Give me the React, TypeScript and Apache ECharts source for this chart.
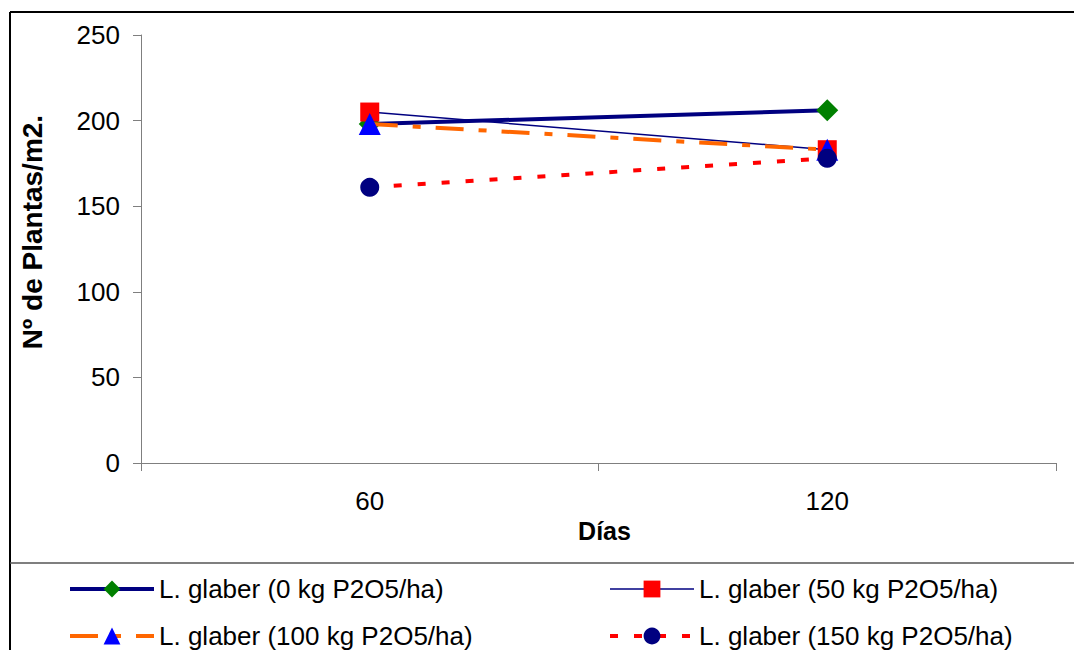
import React, { useEffect, useRef } from 'react';
import * as echarts from 'echarts';

const categories = ['60', '120'];
const seriesNames = [
  'L. glaber (0 kg P2O5/ha)',
  'L. glaber (50 kg P2O5/ha)',
  'L. glaber (100 kg P2O5/ha)',
  'L. glaber (150 kg P2O5/ha)',
];
const values0 = [198, 206];
const values1 = [205, 183];
const values2 = [198, 183];
const values3 = [161, 178];
const yAxisTitle = 'Nº de Plantas/m2.';
const xAxisTitle = 'Días';

const FONT = '"Liberation Sans", Arial, sans-serif';

const styles = [
  { line: { color: '#000080', width: 4, type: 'solid' as any }, symbol: 'diamond', size: 22, mark: '#008000' },
  { line: { color: '#000080', width: 1.5, type: 'solid' as any }, symbol: 'rect', size: 19, mark: '#FF0000' },
  { line: { color: '#FF6600', width: 4, type: [28, 15, 8, 15] as any }, symbol: 'triangle', size: 22, mark: '#0000FF' },
  { line: { color: '#FF0000', width: 4, type: [8, 16] as any }, symbol: 'circle', size: 19, mark: '#000080' },
];
const allValues = [values0, values1, values2, values3];

export default function App() {
  const ref = useRef<HTMLDivElement>(null);
  useEffect(() => {
    if (!ref.current) return;
    const chart = echarts.init(ref.current, undefined, { renderer: 'svg' });
    const legendItem = (i: number) => ({
      name: seriesNames[i],
      itemStyle: { color: styles[i].mark },
      lineStyle: { color: styles[i].line.color, width: styles[i].line.width, type: styles[i].line.type },
    });
    const legendCommon = {
      orient: 'vertical' as const,
      top: 576,
      padding: 0,
      itemWidth: 84,
      itemHeight: 21,
      itemGap: 21,
      textStyle: { fontFamily: FONT, fontSize: 26, lineHeight: 24, color: '#000' },
      selectedMode: false,
    };
    chart.setOption({
      animation: false,
      backgroundColor: '#fff',
      textStyle: { fontFamily: FONT },
      grid: { left: 141, top: 35, right: 18, bottom: 187, containLabel: false },
      xAxis: {
        type: 'category',
        data: categories,
        boundaryGap: true,
        axisLine: { lineStyle: { color: '#7f7f7f', width: 1 } },
        axisTick: { show: true, length: 8, lineStyle: { color: '#7f7f7f' } },
        axisLabel: { fontFamily: FONT, fontSize: 26, color: '#000', margin: 25 },
        name: xAxisTitle,
        nameLocation: 'middle',
        nameGap: 54,
        nameTextStyle: { fontFamily: FONT, fontSize: 25, fontWeight: 'bold', color: '#000', padding: [0, 0, 0, 12] },
        splitLine: { show: false },
      },
      yAxis: {
        type: 'value',
        min: 0,
        max: 250,
        interval: 50,
        axisLine: { show: true, lineStyle: { color: '#7f7f7f', width: 1 } },
        axisTick: { show: true, length: 8, lineStyle: { color: '#7f7f7f' } },
        axisLabel: { fontFamily: FONT, fontSize: 26, color: '#000', margin: 21 },
        splitLine: { show: false },
      },
      legend: [
        { ...legendCommon, left: 68, data: [legendItem(0), legendItem(2)] },
        { ...legendCommon, left: 608, data: [legendItem(1), legendItem(3)] },
      ],
      graphic: [
        { type: 'line', shape: { x1: 10, y1: 12, x2: 1074, y2: 12 }, style: { stroke: '#000', lineWidth: 2 }, silent: true },
        { type: 'line', shape: { x1: 10, y1: 12, x2: 10, y2: 650 }, style: { stroke: '#000', lineWidth: 2 }, silent: true },
        { type: 'line', shape: { x1: 10, y1: 563, x2: 1074, y2: 563 }, style: { stroke: '#555', lineWidth: 1.5 }, silent: true },
        {
          type: 'text',
          x: 32,
          y: 232,
          rotation: Math.PI / 2,
          style: {
            text: yAxisTitle,
            fontFamily: FONT,
            fontSize: 28,
            fontWeight: 'bold',
            fill: '#000',
            align: 'center',
            verticalAlign: 'middle',
          },
          silent: true,
        },
      ],
      series: allValues.map((vals, i) => ({
        name: seriesNames[i],
        type: 'line',
        data: vals,
        symbol: styles[i].symbol,
        symbolSize: styles[i].size,
        lineStyle: styles[i].line,
        itemStyle: { color: styles[i].mark, borderWidth: 0 },
        emphasis: { disabled: true },
        z: 2 + i,
      })),
    });
    return () => chart.dispose();
  }, []);
  return (
    <div
      ref={ref}
      style={{ position: 'fixed', left: 0, top: 0, width: 1074, height: 650 }}
    />
  );
}
